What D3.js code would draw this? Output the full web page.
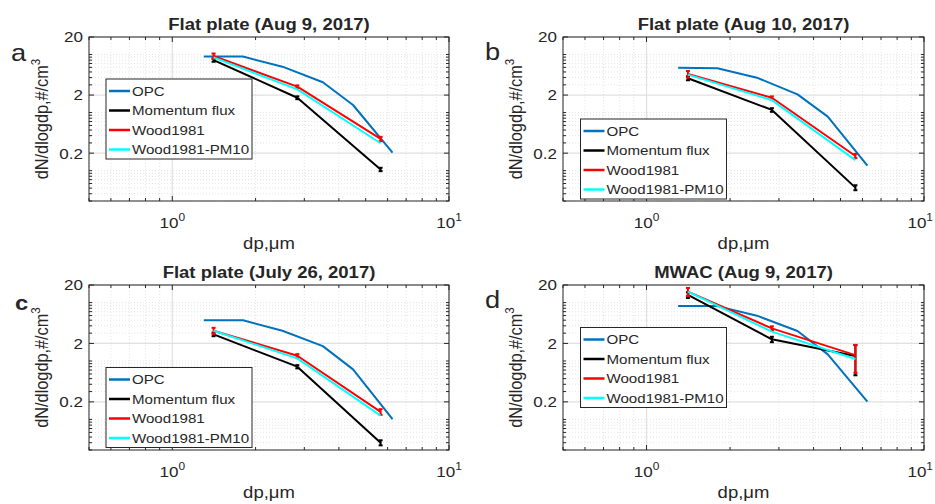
<!DOCTYPE html>
<html>
<head>
<meta charset="utf-8">
<script src="https://cdn.jsdelivr.net/npm/d3@7"></script>
<style>
  html, body { margin: 0; padding: 0; background: #fff; }
  svg { display: block; }
  text { font-family: "Liberation Sans", Arial, Helvetica, sans-serif; fill: #262626; }
</style>
</head>
<body>
<svg id="fig" width="935" height="504"></svg>
<script>
// Particle diameters (µm)
const opcSize = [1.3, 1.8, 2.5, 3.5, 4.5, 6.25];
const binSize = [1.41, 2.83, 5.66];

// Panel a: Flat plate, Aug 9 2017
const opcA = [9.2, 9.2, 6.17, 3.32, 1.35, 0.204];
const momA = [8.0, 1.80, 0.105];
const momErrA = [0.5, 0.1, 0.007];
const woodA = [9.4, 2.79, 0.351];
const woodErrA = [1.0, 0.15, 0.03];
const pm10A = [8.9, 2.51, 0.296];

// Panel b: Flat plate, Aug 10 2017
const opcB = [5.93, 5.78, 3.99, 2.06, 0.85, 0.122];
const momB = [3.9, 1.11, 0.051];
const momErrB = [0.3, 0.08, 0.005];
const woodB = [4.6, 1.80, 0.179];
const woodErrB = [0.6, 0.1, 0.015];
const pm10B = [4.5, 1.64, 0.152];

// Panel c: Flat plate, July 26 2017
const opcC = [4.97, 4.97, 3.30, 1.80, 0.72, 0.101];
const momC = [2.86, 0.80, 0.040];
const momErrC = [0.2, 0.05, 0.004];
const woodC = [3.3, 1.23, 0.135];
const woodErrC = [0.4, 0.08, 0.015];
const pm10C = [3.3, 1.11, 0.116];

// Panel d: MWAC, Aug 9 2017
const opcD = [8.7, 8.7, 5.97, 3.26, 1.30, 0.201];
const momD = [13.5, 2.35, 1.22];
const momErrD = [1.5, 0.25, 0.65];
const woodD = [15.4, 3.62, 1.26];
const woodErrD = [2.4, 0.3, 0.63];
const pm10D = [15.4, 3.18, 1.08];

const titles = ["Flat plate (Aug 9, 2017)", "Flat plate (Aug 10, 2017)",
                "Flat plate (July 26, 2017)", "MWAC (Aug 9, 2017)"];
const letters = ["a", "b", "c", "d"];
const seriesNames = ["OPC", "Momentum flux", "Wood1981", "Wood1981-PM10"];
const seriesColors = ["#0072BD", "#000000", "#FF0000", "#00FFFF"];
const xTicks = [1, 10];
const xTickExp = ["0", "1"];
const yTicks = [0.2, 2, 20];
const yTickLabels = ["0.2", "2", "20"];
const xDomain = [0.5, 10];
const yDomain = [0.03, 20];

const panelData = [
  { opc: opcA, mom: momA, momErr: momErrA, wood: woodA, woodErr: woodErrA, pm10: pm10A },
  { opc: opcB, mom: momB, momErr: momErrB, wood: woodB, woodErr: woodErrB, pm10: pm10B },
  { opc: opcC, mom: momC, momErr: momErrC, wood: woodC, woodErr: woodErrC, pm10: pm10C },
  { opc: opcD, mom: momD, momErr: momErrD, wood: woodD, woodErr: woodErrD, pm10: pm10D }
];

// Layout of the 2x2 grid of axes
const boxes = [
  { l: 89,  r: 449, t: 37,  b: 201, legX: 106,   legY: 79,    letterX: 11,  letterY: 61,  bold: false },
  { l: 563, r: 924, t: 37,  b: 201, legX: 580.5, legY: 119,   letterX: 485, letterY: 60,  bold: false },
  { l: 89,  r: 449, t: 285, b: 450, legX: 106,   legY: 367.5, letterX: 15,  letterY: 310, bold: true },
  { l: 563, r: 924, t: 285, b: 450, legX: 580.5, legY: 327.5, letterX: 485, letterY: 308, bold: false }
];

const SX = 1.135;   // horizontal text stretch of the figure
const FIG_W = 935;
const AXIS_COLOR = "#262626";
const svg = d3.select("#fig");

function stretchText(g, x, y, opts) {
  const t = g.append("text")
    .attr("transform", `translate(${x},${y}) scale(${SX},1)`)
    .attr("font-size", opts.size)
    .attr("text-anchor", opts.anchor || "start");
  if (opts.weight) t.attr("font-weight", opts.weight);
  return t;
}

// minor log positions k*10^n inside the domain
function minorValues(lo, hi) {
  const out = [];
  for (let e = -3; e <= 2; e++) {
    for (let k = 1; k <= 9; k++) {
      const v = k * Math.pow(10, e);
      if (v >= lo * 0.999 && v <= hi * 1.001) out.push(+v.toPrecision(6));
    }
  }
  return out;
}

boxes.forEach((bx, i) => {
  const d = panelData[i];
  const g = svg.append("g");
  const x = d3.scaleLog().domain(xDomain).range([bx.l, bx.r]);
  const y = d3.scaleLog().domain(yDomain).range([bx.b, bx.t]);

  const xMinor = minorValues(xDomain[0], xDomain[1]).filter(v => !xTicks.includes(v));
  const yMinor = minorValues(yDomain[0], yDomain[1]).filter(v => !yTicks.includes(v));

  // minor grid
  const grid = g.append("g");
  grid.selectAll(".mgx").data(xMinor).join("line")
    .attr("x1", v => x(v)).attr("x2", v => x(v)).attr("y1", bx.t).attr("y2", bx.b)
    .attr("stroke", "#dedede").attr("stroke-width", 0.8).attr("stroke-dasharray", "1,2");
  grid.selectAll(".mgy").data(yMinor).join("line")
    .attr("y1", v => y(v)).attr("y2", v => y(v)).attr("x1", bx.l).attr("x2", bx.r)
    .attr("stroke", "#dedede").attr("stroke-width", 0.8).attr("stroke-dasharray", "1,2");
  // major grid
  grid.selectAll(".gx").data(xTicks).join("line")
    .attr("x1", v => x(v)).attr("x2", v => x(v)).attr("y1", bx.t).attr("y2", bx.b)
    .attr("stroke", "#e0e0e0").attr("stroke-width", 1.2);
  grid.selectAll(".gy").data(yTicks).join("line")
    .attr("y1", v => y(v)).attr("y2", v => y(v)).attr("x1", bx.l).attr("x2", bx.r)
    .attr("stroke", "#e0e0e0").attr("stroke-width", 1.2);

  // axes box and inward ticks on all four sides
  const axG = g.append("g").attr("stroke", AXIS_COLOR).attr("stroke-width", 1);
  axG.append("rect").attr("x", bx.l).attr("y", bx.t)
    .attr("width", bx.r - bx.l).attr("height", bx.b - bx.t).attr("fill", "none");
  const xt = xMinor.map(v => ({ v, len: 3 })).concat(xTicks.map(v => ({ v, len: 5 })));
  const yt = yMinor.map(v => ({ v, len: 3 })).concat(yTicks.map(v => ({ v, len: 5 })));
  xt.forEach(tk => {
    axG.append("line").attr("x1", x(tk.v)).attr("x2", x(tk.v)).attr("y1", bx.b).attr("y2", bx.b - tk.len);
    axG.append("line").attr("x1", x(tk.v)).attr("x2", x(tk.v)).attr("y1", bx.t).attr("y2", bx.t + tk.len);
  });
  yt.forEach(tk => {
    axG.append("line").attr("y1", y(tk.v)).attr("y2", y(tk.v)).attr("x1", bx.l).attr("x2", bx.l + tk.len);
    axG.append("line").attr("y1", y(tk.v)).attr("y2", y(tk.v)).attr("x1", bx.r).attr("x2", bx.r - tk.len);
  });

  // tick labels (the rightmost one is kept inside the figure)
  xTicks.forEach((v, j) => {
    const t = stretchText(g, x(v), bx.b + 27, { size: 15, anchor: "middle" });
    t.append("tspan").text("10");
    t.append("tspan").attr("font-size", 10.5).attr("dy", -7).text(xTickExp[j]);
    const bb = t.node().getBBox();
    const right = x(v) + (bb.x + bb.width) * SX;
    if (right > FIG_W - 2) {
      t.attr("transform", `translate(${x(v) - (right - (FIG_W - 2))},${bx.b + 27}) scale(${SX},1)`);
    }
  });
  yTicks.forEach((v, j) => {
    stretchText(g, bx.l - 6, y(v) + 5.4, { size: 15, anchor: "end" }).text(yTickLabels[j]);
  });

  // axis labels and title
  const xl = stretchText(g, (bx.l + bx.r) / 2, bx.b + 48, { size: 16.3, anchor: "middle" });
  xl.text("dp,\u03bcm");
  const yl = g.append("text")
    .attr("transform", `translate(${bx.l - 41},${(bx.t + bx.b) / 2}) rotate(-90) scale(1,${SX})`)
    .attr("font-size", 16.3).attr("text-anchor", "middle");
  yl.append("tspan").text("dN/dlogdp,#/cm");
  yl.append("tspan").attr("font-size", 11.5).attr("dy", -7).text("3");
  stretchText(g, (bx.l + bx.r) / 2, bx.t - 7, { size: 16.3, anchor: "middle", weight: "bold" })
    .text(titles[i]);
  stretchText(g, bx.letterX, bx.letterY, { size: bx.bold ? 21 : 24, weight: bx.bold ? "bold" : null })
    .text(letters[i]);

  // data
  const plot = g.append("g");
  const line = d3.line().x(p => x(p[0])).y(p => y(p[1]));
  const drawLine = (xs, ys, color) => plot.append("path")
    .attr("d", line(xs.map((v, k) => [v, ys[k]])))
    .attr("fill", "none").attr("stroke", color).attr("stroke-width", 2)
    .attr("stroke-linejoin", "round");
  const drawErr = (xs, ys, es, color) => {
    xs.forEach((v, k) => {
      const cx = x(v), y0 = y(Math.max(ys[k] - es[k], yDomain[0])), y1 = y(ys[k] + es[k]);
      plot.append("line").attr("x1", cx).attr("x2", cx).attr("y1", y0).attr("y2", y1)
        .attr("stroke", color).attr("stroke-width", 2);
      [y0, y1].forEach(yy => plot.append("line")
        .attr("x1", cx - 2).attr("x2", cx + 2).attr("y1", yy).attr("y2", yy)
        .attr("stroke", color).attr("stroke-width", 2));
    });
  };
  drawLine(opcSize, d.opc, seriesColors[0]);
  drawLine(binSize, d.mom, seriesColors[1]);
  drawErr(binSize, d.mom, d.momErr, seriesColors[1]);
  drawLine(binSize, d.wood, seriesColors[2]);
  drawErr(binSize, d.wood, d.woodErr, seriesColors[2]);
  drawLine(binSize, d.pm10, seriesColors[3]);

  // legend
  const leg = g.append("g");
  leg.append("rect").attr("x", bx.legX).attr("y", bx.legY).attr("width", 146).attr("height", 80)
    .attr("fill", "#fff").attr("stroke", AXIS_COLOR).attr("stroke-width", 1);
  seriesNames.forEach((name, k) => {
    const ry = bx.legY + 12 + k * 19.5;
    leg.append("line").attr("x1", bx.legX + 3).attr("x2", bx.legX + 24).attr("y1", ry).attr("y2", ry)
      .attr("stroke", seriesColors[k]).attr("stroke-width", 2.5);
    stretchText(leg, bx.legX + 26, ry + 4.8, { size: 13.3 }).text(name);
  });
});
</script>
</body>
</html>
